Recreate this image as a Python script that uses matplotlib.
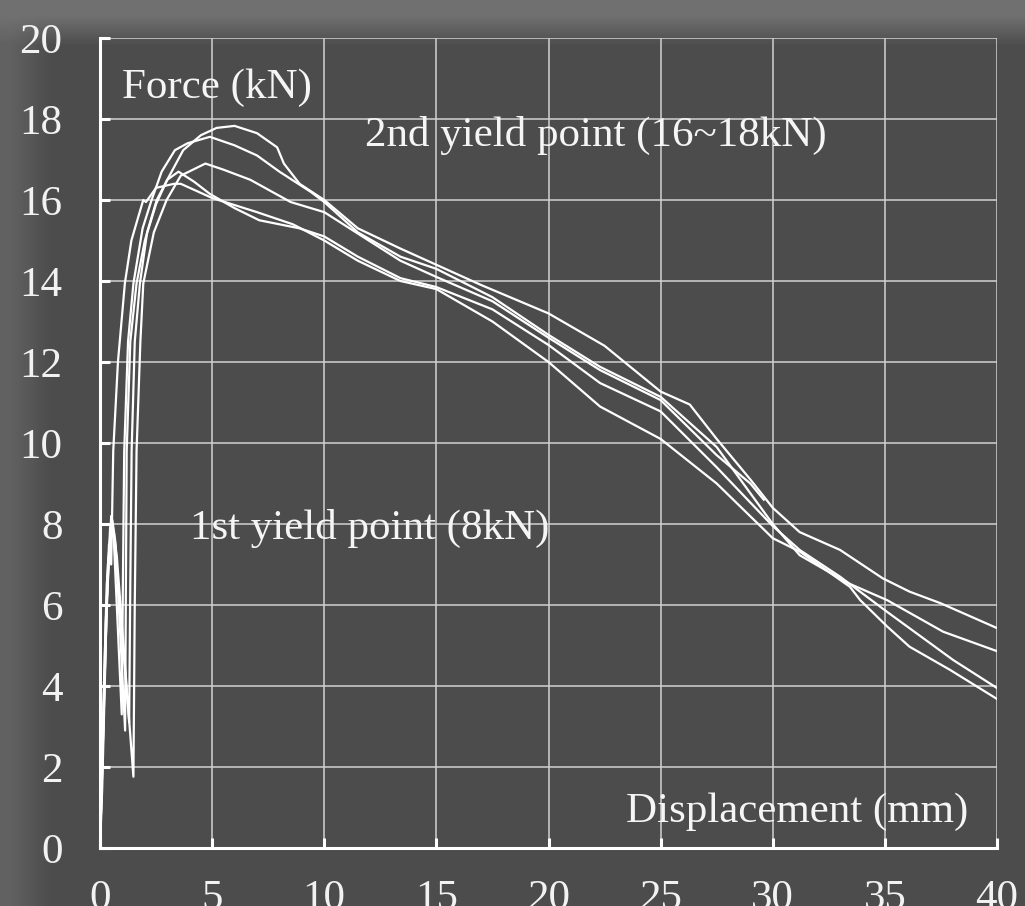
import numpy as np
import matplotlib
matplotlib.use('Agg')
import matplotlib.pyplot as plt

plt.rcParams['font.family'] = ['Liberation Serif', 'DejaVu Serif']

# ---- data (displacement mm, force kN) ----
A_x = [0, 0.1, 0.25, 0.45, 0.55, 0.7, 1.12, 1.15, 1.19, 1.35, 1.63, 2.0, 2.5, 3.0, 3.71, 4.5, 5.2, 6.0, 7.0, 7.9,
       8.2, 8.9, 10, 11.5, 13.4, 15, 17, 20, 22.5, 25, 26.3, 27.5, 29, 30, 31.2, 33, 34.9, 36.1, 37.5, 40]
A_y = [0, 2, 5.5, 7.9, 8.1, 7.5, 2.9, 6.0, 9.8, 12.5, 13.94, 15.0, 15.9, 16.5, 17.23, 17.6, 17.78, 17.83, 17.65, 17.3,
       16.9, 16.4, 16.0, 15.3, 14.8, 14.4, 13.9, 13.2, 12.4, 11.27, 10.95, 10.1, 9.1, 8.4, 7.8, 7.36, 6.66, 6.33, 6.04, 5.43]

B_x = [0, 0.1, 0.3, 0.5, 0.6, 0.97, 1.02, 1.08, 1.25, 1.49, 1.9, 2.3, 2.75, 3.34, 3.9, 4.9, 6.0, 7.0, 8.0, 9.4,
       10, 11.5, 13.4, 15, 17.5, 20, 22.3, 25, 27.5, 30, 31.2, 33.4, 35.1, 37.6, 40]
B_y = [0, 1.5, 6, 8.2, 7.8, 3.3, 6.5, 9.8, 12.5, 13.94, 15.3, 16.0, 16.7, 17.23, 17.4, 17.56, 17.35, 17.1, 16.7, 16.2,
       15.95, 15.2, 14.6, 14.3, 13.6, 12.67, 11.88, 11.14, 9.9, 8.0, 7.23, 6.53, 6.12, 5.34, 4.86]

C_x = [0, 0.15, 0.35, 0.55, 0.75, 1.49, 1.55, 1.63, 1.8, 1.93, 2.4, 2.97, 3.6, 4.7, 5.5, 6.7, 8.5, 10, 13.4,
       15, 17.5, 20, 22.3, 25, 27.5, 29.0, 29.6]
C_y = [0, 3, 7, 7.9, 7.2, 1.76, 6.0, 9.8, 12.5, 13.94, 15.2, 16.0, 16.6, 16.9, 16.75, 16.5, 15.95, 15.7, 14.5,
       14.1, 13.5, 12.6, 11.8, 11.06, 9.7, 9.0, 8.6]

D_x = [0, 0.1, 0.3, 0.5, 0.62, 1.3, 1.35, 1.41, 1.55, 1.78, 2.1, 2.53, 3.0, 3.5, 4.2, 4.9, 6.0, 7.1, 8.9, 10,
       11.5, 13.4, 15, 17.5, 20, 22.3, 25, 27.5, 30, 31.2, 33, 35.1, 38.05, 40]
D_y = [0, 2.5, 6.5, 8.0, 7.8, 3.1, 6.5, 9.8, 12.5, 13.94, 15.2, 16.0, 16.5, 16.7, 16.45, 16.15, 15.8, 15.5, 15.3, 15.1,
       14.6, 14.07, 13.85, 13.3, 12.42, 11.48, 10.78, 9.4, 7.95, 7.36, 6.7, 5.83, 4.64, 3.95]

E_x = [0, 0.1, 0.25, 0.4, 0.5, 0.59, 0.8, 1.11, 1.4, 1.71, 1.93, 2.05, 2.5, 3.3, 3.6, 5.0, 7.0, 8.6, 10, 11.5,
       13.4, 15, 17.5, 20, 22.3, 25, 27.5, 30, 31.2, 33.44, 33.9, 35.1, 36.1, 37.9, 40]
E_y = [0, 2, 5, 7.5, 7.0, 9.8, 12, 13.95, 15.0, 15.59, 16.0, 15.95, 16.3, 16.4, 16.4, 16.05, 15.7, 15.4, 15.0, 14.5,
       14.0, 13.8, 13.0, 12.0, 10.9, 10.1, 9.0, 7.65, 7.32, 6.45, 6.12, 5.47, 4.97, 4.4, 3.68]

curves = [(A_x, A_y), (B_x, B_y), (C_x, C_y), (D_x, D_y), (E_x, E_y)]

x_ticks = [0, 5, 10, 15, 20, 25, 30, 35, 40]
y_ticks = [0, 2, 4, 6, 8, 10, 12, 14, 16, 18, 20]

# ---- figure ----
fig = plt.figure(figsize=(10.25, 9.06), dpi=100)

# background with lighter top/left border
bg = fig.add_axes([0, 0, 1, 1], zorder=-10)
bg.axis('off')
H, W = 906, 1025
rows = np.clip(1 - (np.arange(H) - 15) / 30.0, 0, 1)[:, None]
cols = np.clip(1 - (np.arange(W) - 10) / 40.0, 0, 1)[None, :]
img = 0.30 + 0.14 * rows + 0.08 * cols * (1 - rows)
bg.imshow(img, cmap='gray', vmin=0, vmax=1, aspect='auto', extent=[0, 1, 0, 1])

ax = fig.add_axes([100 / 1025, 58 / 906, 897 / 1025, 810 / 906])
ax.set_facecolor('none')
ax.set_xlim(0, 40)
ax.set_ylim(0, 20)
ax.set_xticks(x_ticks)
ax.set_yticks(y_ticks)
ax.grid(True, color='#d2d2d2', lw=1.1)
ax.set_axisbelow(True)

for s in ['top', 'right']:
    ax.spines[s].set_visible(False)
for s in ['left', 'bottom']:
    ax.spines[s].set_color('white')
    ax.spines[s].set_linewidth(2.2)

ax.tick_params(axis='both', direction='in', length=7, width=2.2, color='white',
               labelcolor='#f2f2f2', labelsize=31)
ax.tick_params(axis='x', pad=23)
ax.tick_params(axis='y', pad=27)

for cx, cy in curves:
    ax.plot(cx, cy, color='white', lw=1.6, solid_joinstyle='round')

tkw = dict(color='#f5f5f5', fontsize=31)
ax.text(0.98, 18.77, 'Force (kN)', ha='left', va='center', **tkw)
ax.text(11.8, 17.6, '2nd yield point (16~18kN)', ha='left', va='center', **tkw)
ax.text(4.0, 7.9, '1st yield point (8kN)', ha='left', va='center', **tkw)
ax.text(38.7, 0.89, 'Displacement (mm)', ha='right', va='center', **tkw)

fig.savefig('out.png', dpi=100)
